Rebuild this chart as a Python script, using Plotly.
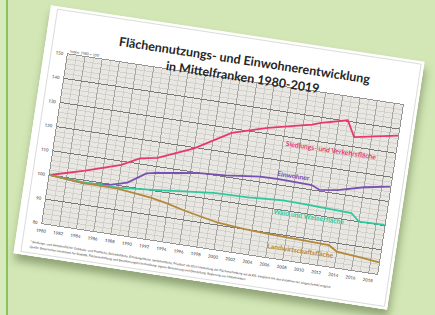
import plotly.graph_objects as go

# ---------------- data ----------------
title_lines = ["Flächennutzungs- und Einwohnerentwicklung", "in Mittelfranken 1980-2019"]
y_title = "Index: 1980 = 100"

siedlung_years = [1980, 1984, 1988, 1990, 1992, 1996, 2000, 2004, 2009, 2010, 2013, 2014, 2019]
siedlung_vals  = [100, 104.0, 108.5, 112.3, 113.5, 119.6, 128.2, 132.4, 136.5, 137.7, 140.4, 134.0, 137.3]

einw_years = [1980, 1984, 1987, 1989, 1991, 1992, 1995, 1997, 2000, 2002, 2004, 2006, 2009, 2010, 2011, 2013, 2016, 2019]
einw_vals  = [100, 98.8, 99.7, 101.7, 106.6, 107.3, 108.9, 109.9, 110.6, 111.3, 112.2, 112.4, 112.0, 112.0, 110.5, 111.5, 114.3, 116.2]

wald_years = [1980, 1984, 1988, 1992, 1999, 2003, 2007, 2009, 2015, 2016, 2019]
wald_vals  = [100, 99.1, 99.1, 100.3, 102.8, 103.1, 104.0, 103.9, 103.1, 100.1, 100.3]

landw_years = [1980, 1984, 1988, 1992, 1994, 1996, 1998, 2000, 2003, 2006, 2013, 2014, 2017, 2019]
landw_vals  = [100, 98.8, 98.7, 97.0, 95.6, 93.8, 92.4, 91.0, 90.1, 89.5, 88.7, 86.6, 85.6, 84.8]

series_names = ["Siedlungs- und Verkehrsfläche", "Einwohner", "Wald und Wasserfläche", "Landwirtschaftsfläche"]
x_tick_vals = list(range(1980, 2019, 2))
y_tick_vals = [80, 90, 100, 110, 120, 130, 140, 150]

footnote_lines = [
    "¹ Siedlungs- und Verkehrsfläche: Gebäude- und Freifläche, Betriebsfläche, Erholungsfläche, Verkehrsfläche, Friedhof; ab 2014 Umstellung der Flächenerhebung auf ALKIS, Vergleich mit den Vorjahren nur eingeschränkt möglich",
    "Quelle: Bayerisches Landesamt für Statistik, Flächenerhebung und Bevölkerungsfortschreibung; eigene Berechnung und Darstellung, Regierung von Mittelfranken",
]

# ---------------- style ----------------
colors = ["#e8386e", "#7a50b2", "#2fc9a0", "#b48a3a"]
label_pos = [(2011.6, 127.4), (2007.8, 114.8), (2010.3, 99.4), (2009.8, 85.0)]
FONT = "Lato, 'DejaVu Sans', sans-serif"

W, H = 378, 251
ML, MR, MT, MB = 20, 15, 46, 34

fig = go.Figure()
all_series = [(siedlung_years, siedlung_vals), (einw_years, einw_vals),
              (wald_years, wald_vals), (landw_years, landw_vals)]
for (xs, ys), name, c in zip(all_series, series_names, colors):
    fig.add_trace(go.Scatter(x=xs, y=ys, mode="lines", name=name,
                             line=dict(color=c, width=1.8), hoverinfo="skip"))

for name, c, (lx, ly) in zip(series_names, colors, label_pos):
    fig.add_annotation(x=lx, y=ly, text="<b>" + name + "</b>", showarrow=False,
                       font=dict(family=FONT, size=6.8, color=c))

pw, ph = W - ML - MR, H - MT - MB
fig.add_annotation(xref="paper", yref="paper", x=0.52, y=1 + (MT - 16) / ph,
                   text="<b>" + title_lines[0] + "</b>", showarrow=False,
                   font=dict(family=FONT, size=12.5, color="#262626"))
fig.add_annotation(xref="paper", yref="paper", x=0.52, y=1 + (MT - 33) / ph,
                   text="<b>" + title_lines[1] + "</b>", showarrow=False,
                   font=dict(family=FONT, size=12.5, color="#262626"))
fig.add_annotation(xref="paper", yref="paper", x=0, y=1 + 8 / ph, xanchor="left",
                   text=y_title, showarrow=False,
                   font=dict(family=FONT, size=3.6, color="#444"))
for i, fl in enumerate(footnote_lines):
    fig.add_annotation(xref="paper", yref="paper", x=-(ML - 9) / pw, xanchor="left",
                       y=-(24 + 5.0 * i) / ph, text=fl, showarrow=False,
                       font=dict(family=FONT, size=3.1, color="#333"))

# chart border inside the white sheet
fig.add_shape(type="rect", xref="paper", yref="paper", layer="below",
              x0=-(ML - 3) / pw, x1=1 + (MR - 3) / pw, y0=-(MB - 3) / ph, y1=1 + (MT - 3) / ph,
              line=dict(color="#cfcfcf", width=0.7))

fig.update_layout(
    width=W, height=H, showlegend=False,
    margin=dict(l=ML, r=MR, t=MT, b=MB, pad=0),
    paper_bgcolor="#ffffff", plot_bgcolor="#e9e7e1",
    font=dict(family=FONT, color="#333"),
)
fig.update_xaxes(range=[1980, 2019], tickvals=x_tick_vals, ticks="",
                 tickfont=dict(size=4.3, color="#333"), ticklabelstandoff=3,
                 showgrid=True, gridcolor="#8a8a8a", gridwidth=0.6,
                 minor=dict(dtick=1, tick0=1980, showgrid=True, gridcolor="#bdbdbd", gridwidth=0.5),
                 showline=True, linecolor="#7a7a7a", linewidth=0.8, mirror=True, zeroline=False)
fig.update_yaxes(range=[80, 150], tickvals=y_tick_vals, ticks="",
                 tickfont=dict(size=4.3, color="#333"), ticklabelstandoff=3,
                 showgrid=True, gridcolor="#6e6e6e", gridwidth=0.9,
                 minor=dict(dtick=2, tick0=80, showgrid=True, gridcolor="#bdbdbd", gridwidth=0.5),
                 showline=True, linecolor="#7a7a7a", linewidth=0.8, mirror=True, zeroline=False)

# photo-like presentation: the sheet lies tilted on a green card
post = """
var gd = document.querySelector('.plotly-graph-div');
document.documentElement.style.overflow = 'hidden';
document.body.style.margin = '0';
document.body.style.background = 'linear-gradient(to right, #d7eabd 0px, #d7eabd 6px, #8cc25a 6px, #8cc25a 8px, #d3e7b6 8px, #d3e7b6 100%)';
gd.style.position = 'absolute';
gd.style.left = '30px';
gd.style.top = '32px';
gd.style.transform = 'rotate(8.6deg)';
gd.style.boxShadow = '2px 7px 9px rgba(60,80,40,0.45)';
"""

fig.write_html("out.html", config=dict(displayModeBar=False, staticPlot=True), post_script=post)
